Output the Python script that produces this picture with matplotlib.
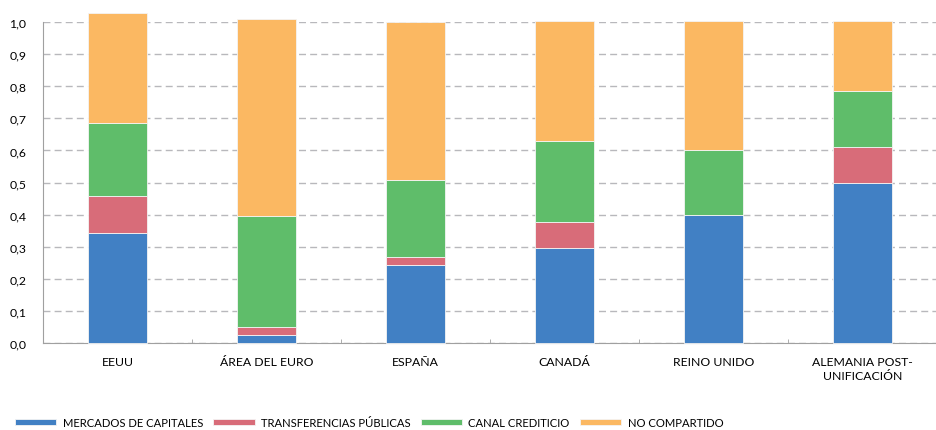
import numpy as np
import matplotlib.pyplot as plt
from matplotlib.ticker import MultipleLocator, FixedLocator, FuncFormatter

plt.rcParams['font.family'] = ['Lato', 'DejaVu Sans']

paises = ["EEUU", "ÁREA DEL EURO", "ESPAÑA", "CANADÁ", "REINO UNIDO",
          "ALEMANIA POST-\nUNIFICACIÓN"]
mercados = [0.343, 0.025, 0.245, 0.298, 0.398, 0.498]
transferencias = [0.114, 0.025, 0.025, 0.080, 0.0, 0.113]
credito = [0.228, 0.347, 0.237, 0.252, 0.203, 0.174]
no_compartido = [0.342, 0.611, 0.492, 0.373, 0.402, 0.218]

series = [
    ("MERCADOS DE CAPITALES", mercados, "#4180c4"),
    ("TRANSFERENCIAS PÚBLICAS", transferencias, "#d86c79"),
    ("CANAL CREDITICIO", credito, "#5fbd6a"),
    ("NO COMPARTIDO", no_compartido, "#fbb862"),
]

fig = plt.figure(figsize=(9.37, 4.31), dpi=100)
ax = fig.add_axes([0.046, 0.201, 0.954, 0.746])

x = np.arange(len(paises))
base = np.zeros(len(paises))
for nombre, vals, color in series:
    ax.bar(x, vals, width=0.4, bottom=base, color=color, label=nombre,
           edgecolor="#f4f4f4", linewidth=0.6, clip_on=False, zorder=3)
    base += np.array(vals)

ax.set_xlim(-0.5, len(paises) - 0.5)
ax.set_ylim(0, 1.0)
ax.yaxis.set_major_locator(MultipleLocator(0.1))
ax.yaxis.set_major_formatter(FuncFormatter(lambda v, p: f"{v:.1f}".replace(".", ",")))
ax.grid(axis="y", linestyle=(0, (5, 3)), color="#b8b8bc", linewidth=1.0, zorder=0)

ax.set_xticks(x)
ax.set_xticklabels(paises, fontsize=8.8, linespacing=1.3)
ax.xaxis.set_minor_locator(FixedLocator(np.arange(-0.5, len(paises), 1.0)))
ax.tick_params(axis="x", which="major", length=0, pad=9)
ax.tick_params(axis="x", which="minor", direction="in", length=3, color="#a0a0a0")
ax.tick_params(axis="y", length=0, labelsize=8.8, pad=12)

for s in ["top", "right"]:
    ax.spines[s].set_visible(False)
ax.spines["left"].set_color("#a0a0a0")
ax.spines["bottom"].set_color("#a0a0a0")

fig.legend(loc="lower left", bbox_to_anchor=(0.005, -0.019), ncol=4, frameon=False,
           fontsize=8.1, handlelength=3.7, handleheight=0.55, columnspacing=0.9,
           handletextpad=0.55)

fig.savefig("out.png", dpi=100)
